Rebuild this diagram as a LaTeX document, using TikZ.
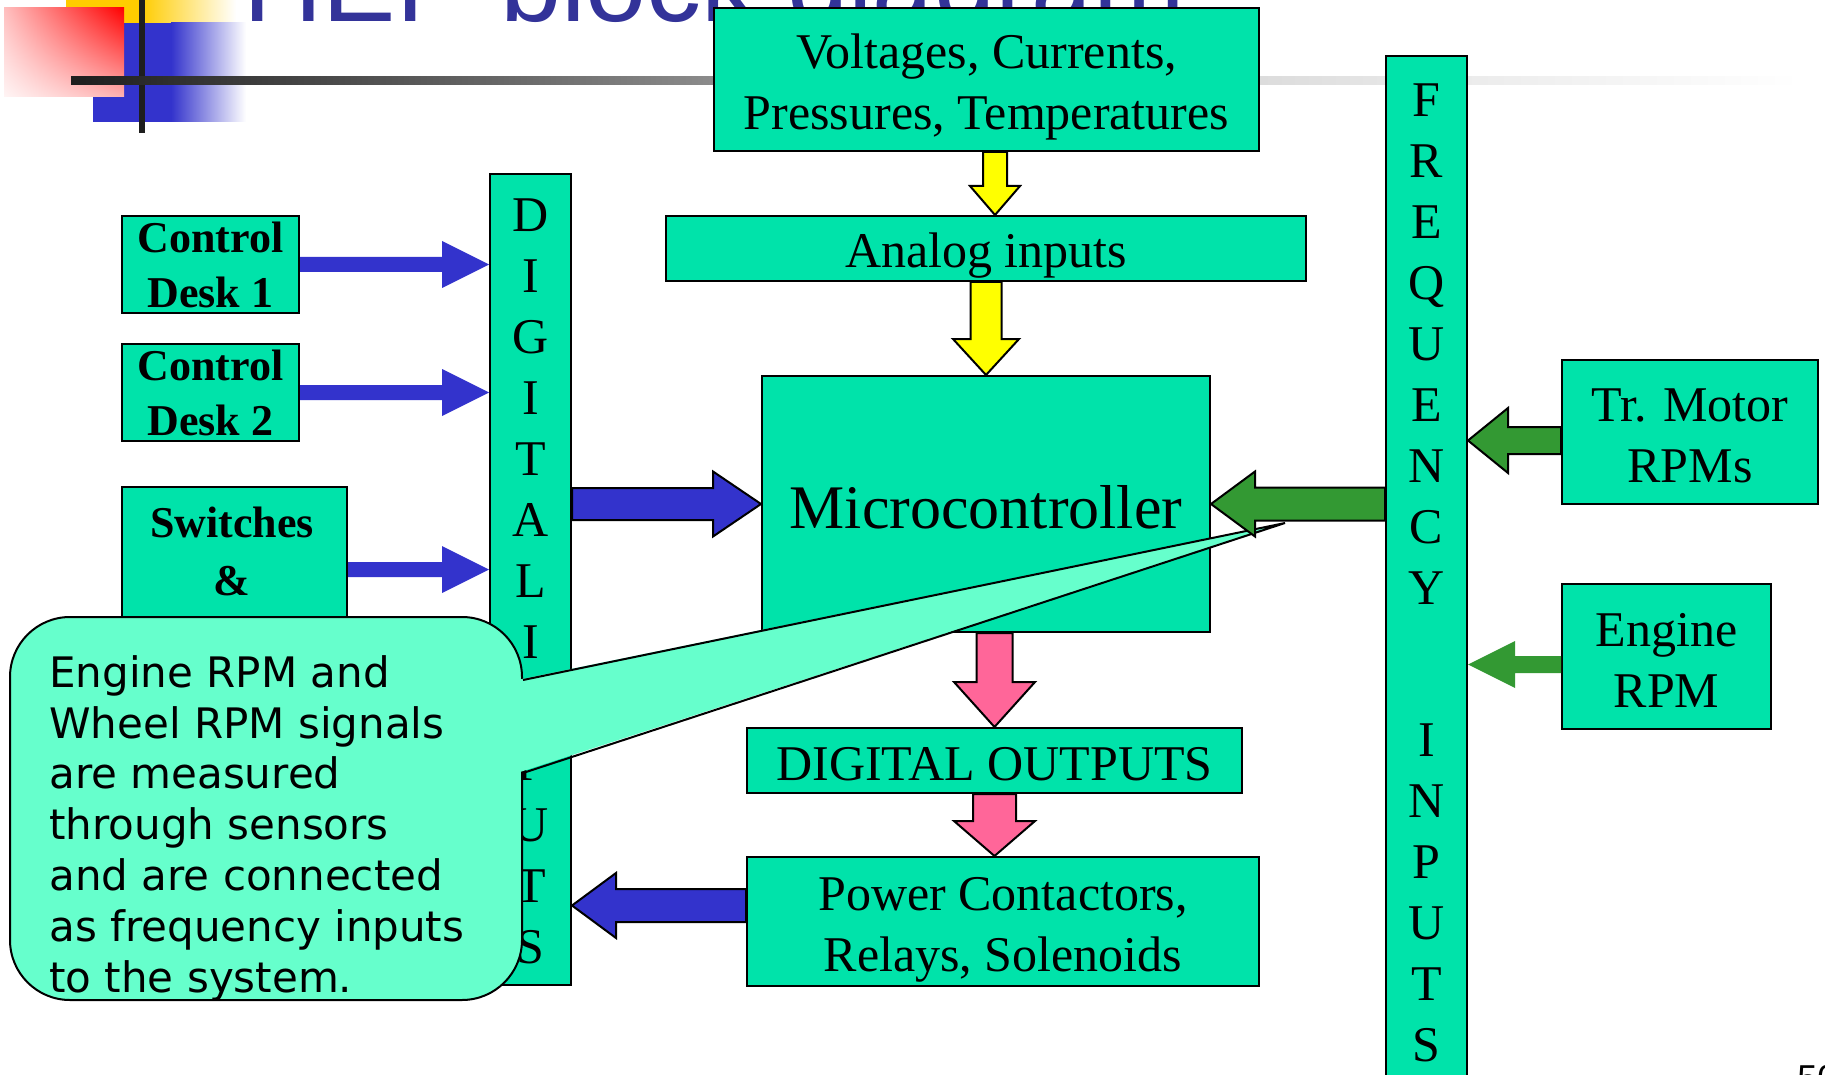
\documentclass[tikz,border=0pt]{standalone}
\usepackage{fontspec}
\setmainfont{Liberation Serif}
\newfontfamily\titlesans{Liberation Sans}
\newfontfamily\notesans{DejaVu Sans}
\usetikzlibrary{calc,shadings}

\definecolor{boxgreen}{RGB}{0,227,170}
\definecolor{notefill}{RGB}{102,255,204}
\definecolor{arrowblue}{RGB}{51,51,204}
\definecolor{arrowgreen}{RGB}{51,153,51}
\definecolor{arrowpink}{RGB}{255,102,153}
\definecolor{arrowyellow}{RGB}{255,255,0}
\definecolor{titleblue}{RGB}{51,51,153}
\definecolor{decoyellow}{RGB}{255,204,0}
\definecolor{decoblue}{RGB}{51,51,204}
\definecolor{rl0}{RGB}{30,30,30}
\definecolor{rl1}{RGB}{140,140,140}
\definecolor{rl2}{RGB}{220,220,220}
\definecolor{rl3}{RGB}{236,236,236}
\pgfdeclarehorizontalshading{rulefade}{100bp}{color(0bp)=(rl0); color(25bp)=(rl0); color(43.7bp)=(rl1); color(59.4bp)=(rl2); color(65.7bp)=(rl3); color(75bp)=(white); color(100bp)=(white)}

% block arrow: #1 style, #2 start, #3 tip, #4 shaft half width, #5 head half width, #6 head length
\newcommand{\blockarrow}[6]{%
  \path #2 coordinate (ba-s);
  \path #3 coordinate (ba-e);
  \path ($(ba-e)!#6!(ba-s)$) coordinate (ba-h);
  \path[#1] ($(ba-s)!#4!90:(ba-e)$) -- ($(ba-h)!#4!90:(ba-e)$) -- ($(ba-h)!#5!90:(ba-e)$)
    -- (ba-e) -- ($(ba-h)!#5!-90:(ba-e)$) -- ($(ba-h)!#4!-90:(ba-e)$) -- ($(ba-s)!#4!-90:(ba-e)$) -- cycle;
}

\begin{document}
\begin{tikzpicture}[x=0.5pt, y=-0.5pt,
  blk/.style={draw=black, line width=1pt, fill=boxgreen, inner sep=0pt},
  txt/.style={inner sep=0pt, align=center, font=\fontsize{25}{30.5}\selectfont},
  btxt/.style={txt, font=\bfseries\fontsize{22}{27.5}\selectfont},
  arrblue/.style={fill=arrowblue},
  arrblueo/.style={fill=arrowblue, draw=black, line width=1pt},
  arrgreen/.style={fill=arrowgreen},
  arrgreeno/.style={fill=arrowgreen, draw=black, line width=1pt},
  arryellow/.style={fill=arrowyellow, draw=black, line width=1pt},
  arrpink/.style={fill=arrowpink, draw=black, line width=1pt},
  notebox/.style={draw=black, line width=1pt, fill=notefill, rounded corners=30pt, inner sep=0pt}
]
\useasboundingbox (0,0) rectangle (1825,1075);
\clip (0,0) rectangle (1825,1075);

% corner ornament and title rule
\fill[decoyellow] (66,-20) rectangle (141,23);
\shade[left color=decoyellow, right color=white] (141,-20) rectangle (236,23);
\fill[decoblue] (93,23) rectangle (171,122);
\shade[left color=decoblue, right color=white] (171,23) rectangle (246,122);
\shade[upper right=red, upper left=red!25, lower right=red!30, lower left=red!4] (4,8) rectangle (124,97);
\fill[rl0] (139,0) rectangle (145,133);
\shade[shading=rulefade] (71,77) rectangle (1800,85);

\node[anchor=base west, inner sep=0pt, text=titleblue, font=\titlesans\fontsize{55}{60}\selectfont]
  (title) at (243,22) {HEP block diagram};

% blocks
\node[blk, minimum width=272.5pt, minimum height=71.5pt] (volt) at (986.5,79.5) {};
\node[txt, yshift=-3.5pt] (volt-t) at (volt) {Voltages, Currents,\\Pressures, Temperatures};
\node[blk, minimum width=320pt, minimum height=32.5pt] (analog) at (986,248.5) {};
\node[txt, yshift=-3.5pt] (analog-t) at (analog) {Analog inputs};
\node[blk, minimum width=224pt, minimum height=128pt] (micro) at (986,504) {};
\node[txt, yshift=-1.75pt, font=\fontsize{31}{36}\selectfont] (micro-t) at (micro) {Microcontroller};
\node[blk, minimum width=247.5pt, minimum height=32.5pt] (dout) at (994.5,760.5) {};
\node[txt, yshift=-1.75pt] (dout-t) at (dout) {DIGITAL OUTPUTS};
\node[blk, minimum width=256pt, minimum height=64.5pt] (power) at (1003,921.5) {};
\node[txt, yshift=-4pt] (power-t) at (power) {Power Contactors,\\Relays, Solenoids};
\node[blk, minimum width=40.5pt, minimum height=405.5pt] (din) at (530.5,579.5) {};
\node[txt, yshift=-1pt] (din-t) at (din) {D\\I\\G\\I\\T\\A\\L\\I\\N\\P\\U\\T\\S};
\node[blk, minimum width=40.5pt, minimum height=522pt] (freq) at (1426.5,578) {};
\node[txt] (freq-t) at (1426.5,572.5) {F\\R\\E\\Q\\U\\E\\N\\C\\Y\\[45.5pt]I\\N\\P\\U\\T\\S};
\node[blk, minimum width=88.5pt, minimum height=48.5pt] (cd1) at (210.5,264.5) {};
\node[btxt] (cd1-t) at (cd1) {Control\\Desk 1};
\node[blk, minimum width=88.5pt, minimum height=48.5pt] (cd2) at (210.5,392.5) {};
\node[btxt] (cd2-t) at (cd2) {Control\\Desk 2};
\node[blk, minimum width=112.5pt, minimum height=106.5pt] (sw) at (234.5,593.5) {};
\node[btxt, font=\bfseries\fontsize{22}{29}\selectfont] (sw-t) at (232,551) {Switches\\\&};
\node[blk, minimum width=128pt, minimum height=72pt] (tr) at (1690,432) {};
\node[txt, yshift=-2pt] (tr-t) at (tr) {Tr. Motor\\RPMs};
\node[blk, minimum width=104.5pt, minimum height=72.5pt] (eng) at (1666.5,656.5) {};
\node[txt, yshift=-2pt] (eng-t) at (eng) {Engine\\RPM};

% callout
\node[notebox, minimum width=256pt, minimum height=191.5pt] (note) at (266,808.5) {};
\coordinate (notetip) at (1285,523);
\coordinate (noteA) at (note.east |- 0,680);
\coordinate (noteB) at (note.east |- 0,773);
\fill[notefill] ([xshift=-3pt]noteA) -- (notetip) -- ([xshift=-3pt]noteB) -- cycle;
\draw[line width=1pt] (noteA) -- (notetip) -- (noteB);
\node[anchor=base west, align=left, inner sep=0pt, font=\notesans\fontsize{21}{25.4}\selectfont]
  (note-t) at (49,992) {Engine RPM and\\Wheel RPM signals\\are measured\\through sensors\\and are connected\\as frequency inputs\\to the system.};

% connectors
\blockarrow{arrblue}{(cd1.east)}{(cd1.east -| din.west)}{3.75pt}{11.75pt}{23.5pt}
\blockarrow{arrblue}{(cd2.east)}{(cd2.east -| din.west)}{3.75pt}{11.75pt}{23.5pt}
\coordinate (swout) at ([yshift=12pt]sw.east);
\blockarrow{arrblue}{(swout)}{(swout -| din.west)}{3.75pt}{11.75pt}{23.5pt}
\blockarrow{arrblueo}{(din.east |- micro.west)}{(micro.west)}{8pt}{16.25pt}{24pt}
\coordinate (powout) at ([yshift=8pt]power.west);
\blockarrow{arrblueo}{(powout)}{(powout -| din.east)}{8.25pt}{16.25pt}{22pt}
\coordinate (voltout) at ([xshift=4.25pt]volt.south);
\blockarrow{arryellow}{(voltout)}{(voltout |- analog.north)}{6pt}{12.5pt}{14.5pt}
\blockarrow{arryellow}{(analog.south)}{(micro.north)}{7.75pt}{16.5pt}{18pt}
\blockarrow{arrpink}{(micro.south -| dout.north)}{(dout.north)}{9pt}{20.25pt}{22.5pt}
\blockarrow{arrpink}{(dout.south)}{(dout.south |- power.north)}{10.75pt}{20.25pt}{17.5pt}
\blockarrow{arrgreeno}{(freq.west |- micro.east)}{(micro.east)}{8.25pt}{16.25pt}{22pt}
\coordinate (trout) at ([yshift=-4.25pt]tr.west);
\blockarrow{arrgreeno}{(trout)}{(trout -| freq.east)}{6.75pt}{16.25pt}{20pt}
\coordinate (engout) at ([yshift=-4pt]eng.west);
\blockarrow{arrgreen}{(engout)}{(engout -| freq.east)}{4.25pt}{11.75pt}{23.5pt}

\node[anchor=north west, inner sep=0pt, font=\titlesans\fontsize{18}{20}\selectfont] (pagenum) at (1797,1065) {50};
\end{tikzpicture}
\end{document}
